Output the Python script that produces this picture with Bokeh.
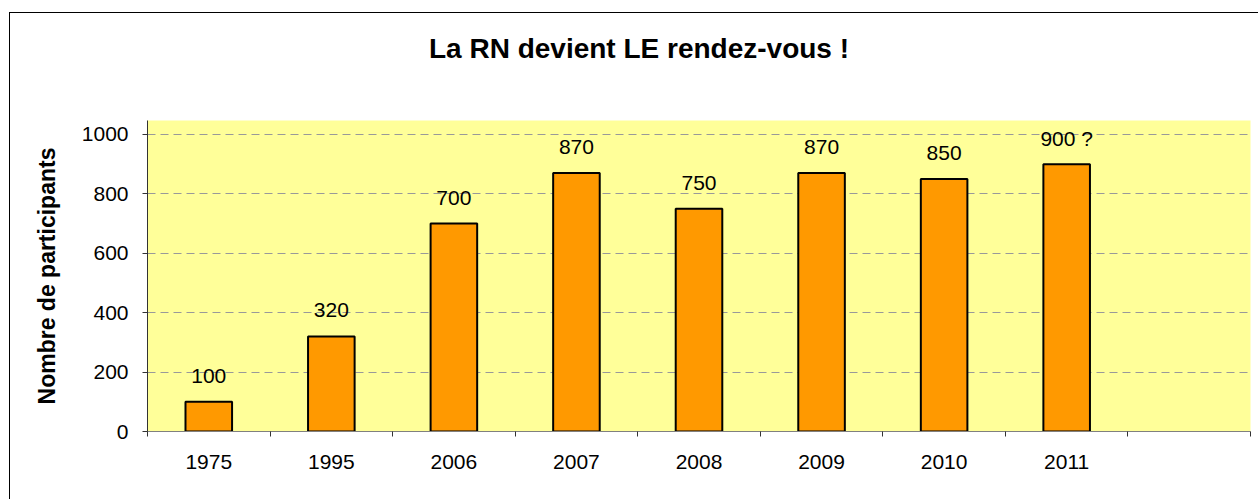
from bokeh.plotting import figure
from bokeh.layouts import column
from bokeh.models import (Range1d, FactorRange, LinearAxis, CategoricalAxis,
                          FixedTicker, ColumnDataSource, Div)
from bokeh.core.properties import value
from bokeh.embed import file_html
from bokeh.resources import INLINE

# ---- data ----
years = ["1975", "1995", "2006", "2007", "2008", "2009", "2010", "2011"]
participants = [100, 320, 700, 870, 750, 870, 850, 900]
bar_labels = ["100", "320", "700", "870", "750", "870", "850", "900 ?"]
y_ticks = [0, 200, 400, 600, 800, 1000]
title_text = "La RN devient LE rendez-vous !"
y_label = "Nombre de participants"

FONT = "Liberation Sans"
factors = years + [" "]
n_slots = len(factors)

src = ColumnDataSource(dict(year=years, n=participants, label=bar_labels))

title_div = Div(text=title_text, width=1248, height=62,
                styles={"font-family": FONT, "font-size": "28px",
                        "font-weight": "bold", "color": "black",
                        "text-align": "center", "line-height": "62px",
                        "white-space": "nowrap"})

p = figure(width=1248, height=415,
           x_range=FactorRange(factors=factors, range_padding=0),
           y_range=Range1d(0, 1047),
           output_backend="svg", toolbar_location=None,
           x_axis_location=None, y_axis_location=None,
           min_border_left=137, min_border_right=8,
           min_border_top=35, min_border_bottom=69)
p.background_fill_color = "#FFFF99"
p.border_fill_color = "white"
p.outline_line_color = None

p.xgrid.visible = False
p.ygrid.ticker = FixedTicker(ticks=y_ticks)
p.ygrid.grid_line_color = "#999999"
p.ygrid.grid_line_dash = "8 5"
p.ygrid.grid_line_width = 1

# y axis
yaxis = LinearAxis(ticker=FixedTicker(ticks=y_ticks))
yaxis.axis_line_color = "#333333"
yaxis.major_tick_line_color = "#333333"
yaxis.major_tick_out = 5
yaxis.major_tick_in = 0
yaxis.minor_tick_line_color = None
yaxis.major_label_text_font = FONT
yaxis.major_label_text_font_size = "21px"
yaxis.major_label_text_color = "black"
yaxis.major_label_standoff = 14
yaxis.axis_label = y_label
yaxis.axis_label_text_font = FONT
yaxis.axis_label_text_font_size = "23px"
yaxis.axis_label_text_font_style = "bold"
yaxis.axis_label_text_color = "black"
yaxis.axis_label_standoff = 19
p.add_layout(yaxis, "left")

# x axis line with ticks on category boundaries (synthetic coordinates 0..n)
tick_axis = LinearAxis(ticker=FixedTicker(ticks=[],
                                          minor_ticks=list(range(n_slots + 1))))
tick_axis.axis_line_color = "#808080"
tick_axis.major_tick_line_color = None
tick_axis.minor_tick_line_color = "#333333"
tick_axis.minor_tick_out = 5
tick_axis.minor_tick_in = 0
p.add_layout(tick_axis, "below")

cat_axis = CategoricalAxis()
cat_axis.axis_line_color = None
cat_axis.major_tick_line_color = None
cat_axis.minor_tick_line_color = None
cat_axis.major_label_text_font = FONT
cat_axis.major_label_text_font_size = "21px"
cat_axis.major_label_text_color = "black"
cat_axis.major_label_standoff = 7
p.add_layout(cat_axis, "below")

p.vbar(x="year", top="n", width=0.38, source=src,
       fill_color="#FF9900", line_color="black", line_width=2)

p.text(x="year", y="n", text="label", source=src,
       text_align="center", text_baseline="alphabetic", y_offset=-26,
       text_font=value(FONT), text_font_size="21px", text_color="black")

layout = column(title_div, p, spacing=0,
                styles={"margin-left": "10px", "margin-top": "13px",
                        "box-shadow": "-1px -1px 0 0 black",
                        "background-color": "white"})

open("out.html", "w").write(file_html(layout, INLINE))
